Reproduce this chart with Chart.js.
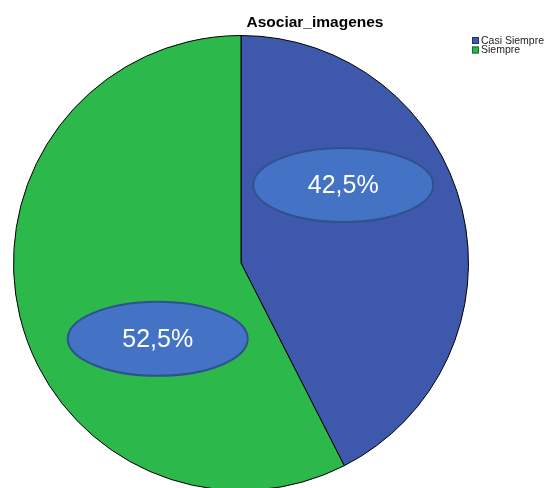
<!DOCTYPE html>
<html>
<head>
<meta charset="utf-8">
<script src="https://cdn.jsdelivr.net/npm/chart.js@4/dist/chart.umd.min.js"></script>
<style>
    html, body { margin: 0; padding: 0; background: #fff; overflow: hidden; }
    #wrap { position: relative; width: 548px; height: 500px; }
</style>
</head>
<body>
<div id="wrap"><canvas id="pieChart"></canvas></div>
<script>
// data
const chartTitle = 'Asociar_imagenes';
const categories = ['Casi Siempre', 'Siempre'];
const sliceValues = [42.5, 57.5];
const sliceLabels = ['42,5%', '52,5%'];
const sliceColors = ['#3e58ac', '#2db84b'];
const legendBorders = ['#24306a', '#1a6b2c'];

// where each label bubble sits: angle from top (deg, clockwise) and fraction of radius
const bubbleAngle = [52.7, 227.7];
const bubbleDist = [0.565, 0.495];

const overlayPlugin = {
    id: 'overlay',
    afterDraw(chart) {
        const ctx = chart.ctx;
        const arcs = chart.getDatasetMeta(0).data;
        if (!arcs.length) return;
        const cx = arcs[0].x;
        const cy = arcs[0].y;
        const r = arcs[0].outerRadius;

        ctx.save();

        // title
        ctx.fillStyle = '#000';
        ctx.font = 'bold 15.5px "Liberation Sans", Arial, sans-serif';
        ctx.textAlign = 'center';
        ctx.textBaseline = 'alphabetic';
        ctx.fillText(chartTitle, 315, 27);

        // legend
        ctx.font = '10.5px "Liberation Sans", Arial, sans-serif';
        ctx.textAlign = 'left';
        ctx.textBaseline = 'middle';
        categories.forEach((name, i) => {
            const y = 37 + i * 9.5;
            ctx.fillStyle = sliceColors[i];
            ctx.fillRect(472, y, 7, 7);
            ctx.strokeStyle = legendBorders[i];
            ctx.lineWidth = 1;
            ctx.strokeRect(472.5, y + 0.5, 6, 6);
            ctx.fillStyle = '#222';
            ctx.fillText(name, 481, y + 4);
        });

        // bubbles with the percentages
        sliceLabels.forEach((txt, i) => {
            const a = bubbleAngle[i] * Math.PI / 180;
            const bx = cx + Math.sin(a) * r * bubbleDist[i];
            const by = cy - Math.cos(a) * r * bubbleDist[i];
            ctx.beginPath();
            ctx.ellipse(bx, by, 90, 37, 0, 0, Math.PI * 2);
            ctx.fillStyle = '#4472c4';
            ctx.fill();
            ctx.lineWidth = 2;
            ctx.strokeStyle = '#2f528f';
            ctx.stroke();
            ctx.fillStyle = '#fff';
            ctx.font = '25px "Liberation Sans", Arial, sans-serif';
            ctx.textAlign = 'center';
            ctx.textBaseline = 'middle';
            ctx.fillText(txt, bx, by + 1);
        });

        ctx.restore();
    }
};

const ctx = document.getElementById('pieChart').getContext('2d');
const chart = new Chart(ctx, {
    type: 'pie',
    data: {
        labels: categories,
        datasets: [{
            data: sliceValues,
            backgroundColor: sliceColors,
            borderColor: '#000',
            borderWidth: 1,
            borderAlign: 'center'
        }]
    },
    options: {
        responsive: true,
        maintainAspectRatio: false,
        animation: false,
        events: [],
        layout: {
            padding: { left: 13, right: 79, top: 35, bottom: 9 }
        },
        plugins: {
            legend: { display: false },
            title: { display: false },
            tooltip: { enabled: false }
        }
    },
    plugins: [overlayPlugin]
});
</script>
</body>
</html>
